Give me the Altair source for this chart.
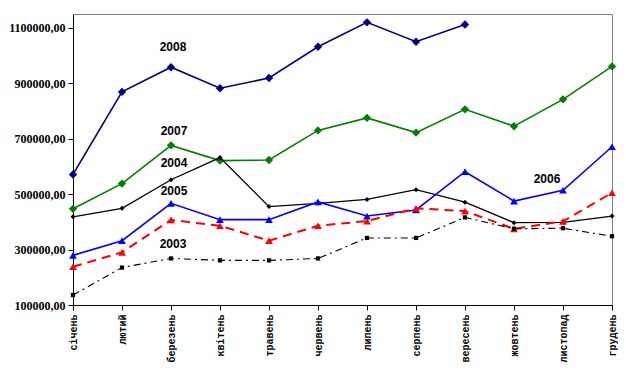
import altair as alt
import pandas as pd

months = ["січень", "лютий", "березень", "квітень", "травень", "червень",
          "липень", "серпень", "вересень", "жовтень", "листопад", "грудень"]

s2008 = [571000, 869000, 958000, 882000, 919000, 1032000, 1120000, 1050000, 1112000, None, None, None]
s2007 = [447000, 538000, 676000, 621000, 623000, 730000, 775000, 722000, 806000, 745000, 842000, 961000]
s2004 = [418000, 449000, 552000, 632000, 455000, 467000, 481000, 516000, 471000, 397000, 398000, 421000]
s2005 = [279000, 332000, 467000, 408000, 408000, 472000, 421000, 443000, 581000, 475000, 514000, 671000]
s2006 = [238000, 290000, 407000, 386000, 332000, 386000, 403000, 449000, 439000, 375000, 402000, 505000]
s2003 = [136000, 235000, 268000, 261000, 261000, 268000, 342000, 342000, 416000, 375000, 377000, 348000]

label_text = ["2008", "2007", "2004", "2005", "2003", "2006"]
label_month = ["березень", "березень", "березень", "березень", "березень", "листопад"]
label_value = [1031000, 729000, 611000, 511000, 319000, 555000]
label_dx = [2, 3, 3, 3, 2, -16]

series = [
    ("2008", s2008, "#000080", "diamond", 70, 1.6, []),
    ("2007", s2007, "#008000", "diamond", 70, 1.6, []),
    ("2004", s2004, "#000000", "diamond", 25, 1.3, []),
    ("2005", s2005, "#0000FF", "triangle-up", 60, 1.6, []),
    ("2006", s2006, "#FF0000", "triangle-up", 60, 2.0, [9, 6]),
    ("2003", s2003, "#000000", "square", 18, 1.1, [7, 4, 2, 4]),
]

x_enc = alt.X("month:N", sort=months,
              scale=alt.Scale(type="point", padding=0, domain=months),
              axis=alt.Axis(title=None, labelAngle=270, labelFont="Liberation Mono",
                            labelFontSize=10, labelFontWeight="bold", labelColor="#000000",
                            tickColor="#000000", domainColor="#000000", tickSize=5,
                            labelPadding=4, grid=False))
y_enc = alt.Y("value:Q",
              scale=alt.Scale(domain=[100000, 1150000], nice=False, zero=False),
              axis=alt.Axis(title=None, values=[100000, 300000, 500000, 700000, 900000, 1100000],
                            labelExpr="replace(format(datum.value, '.2f'), '.', ',')",
                            labelFont="Liberation Serif", labelFontSize=12, labelFontWeight="bold",
                            labelColor="#000000", tickColor="#000000", domainColor="#000000",
                            tickSize=5, labelPadding=3, grid=False))

layers = []
for name, vals, color, shape, size, sw, dash in series:
    df = pd.DataFrame({"month": months, "value": vals}).dropna()
    base = alt.Chart(df)
    line_kwargs = dict(color=color, strokeWidth=sw)
    if dash:
        line_kwargs["strokeDash"] = dash
    layers.append(base.mark_line(**line_kwargs).encode(x=x_enc, y=y_enc))
    layers.append(base.mark_point(shape=shape, size=size, filled=True, color=color, opacity=1)
                  .encode(x=x_enc, y=y_enc))

for t, m, v, dx in zip(label_text, label_month, label_value, label_dx):
    ldf = pd.DataFrame({"month": [m], "value": [v], "t": [t]})
    layers.append(alt.Chart(ldf).mark_text(font="Liberation Sans", fontSize=12, fontWeight="bold",
                                           color="#000000", dx=dx, align="center", baseline="middle")
                  .encode(x=x_enc, y=y_enc, text="t:N"))

chart = alt.layer(*layers).properties(
    width=539, height=291,
    autosize=alt.AutoSizeParams(type="none"),
    padding={"left": 65, "top": 6, "right": 6, "bottom": 58},
    background="#FFFFFF",
).configure_view(stroke="#808080", strokeWidth=1)

chart.save("out.html", embed_options={"renderer": "svg", "actions": False})
